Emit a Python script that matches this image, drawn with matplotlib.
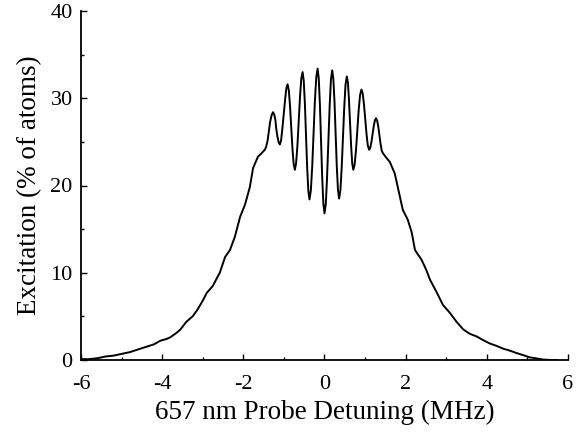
import matplotlib
matplotlib.use("Agg")
import matplotlib.pyplot as plt
from matplotlib.ticker import MultipleLocator

# Detuning (MHz) and excitation (% of atoms)
detuning = [
    -6.0, -5.8, -5.6, -5.4, -5.2, -5.0, -4.8, -4.6, -4.4, -4.2,
    -4.05, -3.9, -3.8, -3.65, -3.55, -3.4, -3.25, -3.14, -3.0, -2.9,
    -2.75, -2.65, -2.58, -2.45, -2.33, -2.21, -2.08, -1.96, -1.84, -1.76,
    -1.64, -1.55, -1.47,
    -1.44, -1.40, -1.37, -1.34, -1.30, -1.27,
    -1.24, -1.21, -1.19, -1.16, -1.13, -1.10,
    -1.07, -1.04, -1.005, -0.97, -0.94, -0.91,
    -0.88, -0.85, -0.82, -0.79, -0.76, -0.73,
    -0.70, -0.667, -0.635, -0.603, -0.572, -0.54,
    -0.512, -0.483, -0.455, -0.427, -0.398, -0.37,
    -0.337, -0.303, -0.27, -0.237, -0.203, -0.17,
    -0.142, -0.113, -0.085, -0.057, -0.028, 0.0,
    0.032, 0.063, 0.095, 0.127, 0.158, 0.19,
    0.218, 0.247, 0.275, 0.303, 0.332, 0.36,
    0.392, 0.423, 0.455, 0.487, 0.518, 0.55,
    0.577, 0.603, 0.63, 0.657, 0.683, 0.71,
    0.743, 0.777, 0.81, 0.843, 0.877, 0.91,
    0.942, 0.973, 1.005, 1.037, 1.068, 1.10,
    1.128, 1.157, 1.185, 1.213, 1.242, 1.27,
    1.298, 1.327, 1.355, 1.383, 1.412, 1.44,
    1.52, 1.61, 1.73, 1.86, 1.93, 2.05, 2.15, 2.23, 2.39, 2.51,
    2.60, 2.76, 2.92, 3.09, 3.25, 3.42, 3.58, 3.75, 3.9, 4.07,
    4.25, 4.40, 4.55, 4.73, 4.9, 5.06, 5.2, 5.39, 5.59, 5.7,
]
excitation = [
    0.1, 0.1, 0.2, 0.4, 0.5, 0.7, 0.9, 1.2, 1.5, 1.8,
    2.2, 2.4, 2.6, 3.1, 3.5, 4.4, 5.0, 5.7, 6.8, 7.7,
    8.5, 9.4, 10.0, 11.8, 12.6, 14.1, 16.4, 17.8, 19.8, 22.0,
    23.3, 23.7, 24.1,
    24.4, 25.2, 26.3, 27.3, 28.1, 28.4,
    28.15, 27.5, 26.55, 25.6, 24.95, 24.7,
    25.16, 26.43, 28.15, 29.88, 31.14, 31.6,
    30.94, 29.15, 26.7, 24.25, 22.46, 21.8,
    22.55, 24.6, 27.4, 30.2, 32.25, 33.0,
    32.02, 29.35, 25.7, 22.05, 19.38, 18.4,
    19.4, 22.15, 25.9, 29.65, 32.4, 33.4,
    32.29, 29.25, 25.1, 20.95, 17.91, 16.8,
    17.9, 20.9, 25.0, 29.1, 32.1, 33.2,
    32.22, 29.53, 25.85, 22.17, 19.48, 18.5,
    19.44, 22.0, 25.5, 29.0, 31.56, 32.5,
    31.78, 29.83, 27.15, 24.47, 22.52, 21.8,
    22.42, 24.1, 26.4, 28.7, 30.38, 31.0,
    30.54, 29.28, 27.55, 25.83, 24.56, 24.1,
    24.34, 25.0, 25.9, 26.8, 27.46, 27.7,
    27.43, 26.7, 25.7, 24.7, 23.97, 23.7,
    23.2, 22.7, 21.4, 18.7, 17.2, 16.1, 14.6, 12.6, 11.5, 10.3,
    9.2, 7.8, 6.3, 5.4, 4.4, 3.5, 3.0, 2.7, 2.3, 1.9,
    1.6, 1.3, 1.1, 0.8, 0.55, 0.3, 0.2, 0.05, 0.0, 0.0,
]
x_label = "657 nm Probe Detuning (MHz)"
y_label = "Excitation (% of atoms)"

plt.rcParams['font.family'] = ['Liberation Serif', 'DejaVu Serif']
plt.rcParams['axes.unicode_minus'] = False

fig = plt.figure(figsize=(5.84, 4.32), dpi=100)
ax = fig.add_axes([81/584, 72/432, (568-81)/584, (360-11)/432])
ax.plot(detuning, excitation, color='black', linewidth=1.4)

ax.set_xlim(-6, 6)
ax.set_ylim(0, 40)
ax.xaxis.set_major_locator(MultipleLocator(2))
ax.xaxis.set_minor_locator(MultipleLocator(1))
ax.yaxis.set_major_locator(MultipleLocator(10))
ax.yaxis.set_minor_locator(MultipleLocator(5))

for s in ['top', 'right']:
    ax.spines[s].set_visible(False)
for s in ['left', 'bottom']:
    ax.spines[s].set_linewidth(1.3)

ax.tick_params(axis='both', which='both', direction='in', width=1.0, labelsize=16)
ax.tick_params(axis='both', which='major', length=4)
ax.tick_params(axis='both', which='minor', length=2.5)
ax.tick_params(axis='x', which='major', pad=11)
ax.tick_params(axis='y', which='major', pad=6)

ax.set_xlabel(x_label, fontsize=19.5, labelpad=4)
ax.set_ylabel(y_label, fontsize=19.5, labelpad=6)

fig.savefig("out.png", dpi=100)
